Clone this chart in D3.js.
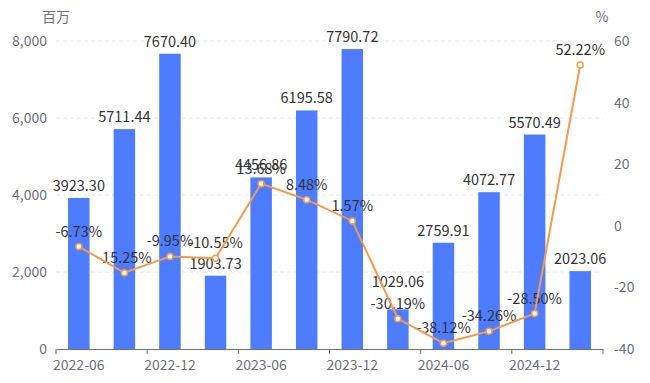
<!DOCTYPE html>
<html>
<head>
<meta charset="utf-8">
<script src="https://d3js.org/d3.v7.min.js"></script>
<style>
  body { margin: 0; background: #fff; }
  svg text { font-family: "Noto Sans CJK SC", "Noto Sans", sans-serif; }
</style>
</head>
<body>
<svg id="chart" width="650" height="383"></svg>
<script>
// quarters, revenue (百万) and YoY growth (%)
var quarters = ["2022-06","2022-09","2022-12","2023-03","2023-06","2023-09",
                "2023-12","2024-03","2024-06","2024-09","2024-12","2025-03"];
var revenue = [3923.30, 5711.44, 7670.40, 1903.73, 4456.86, 6195.58,
               7790.72, 1029.06, 2759.91, 4072.77, 5570.49, 2023.06];
var growth = [-6.73, -15.25, -9.95, -10.55, 13.68, 8.48,
              1.57, -30.19, -38.12, -34.26, -28.50, 52.22];
var leftTicks = [0, 2000, 4000, 6000, 8000];
var rightTicks = [-40, -20, 0, 20, 40, 60];

var svg = d3.select("#chart"),
    plotL = 56, plotR = 603, plotT = 41, plotB = 349; // "top" is taken by window

var x = d3.scaleBand().domain(quarters).range([plotL, plotR]);
var yL = d3.scaleLinear().domain([0, 8000]).range([plotB, plotT]);
var yR = d3.scaleLinear().domain([-40, 60]).range([plotB, plotT]);
var barW = 21.5;
var fmt = d3.format(",");
var axisCol = "#6e7079", labelCol = "#333";

// grid lines (dashed)
svg.append("g").selectAll("line").data(leftTicks.slice(1)).join("line")
  .attr("x1", plotL).attr("x2", plotR)
  .attr("y1", d => yL(d)).attr("y2", d => yL(d))
  .attr("stroke", "#e0e6f1").attr("stroke-dasharray", "4,3");

// left axis labels
svg.append("g").selectAll("text").data(leftTicks).join("text")
  .attr("x", 47).attr("y", d => yL(d)).attr("dy", "0.35em")
  .attr("text-anchor", "end").attr("font-size", 14).attr("fill", axisCol)
  .text(d => fmt(d));
svg.append("text").attr("x", 56).attr("y", 22).attr("text-anchor", "middle")
  .attr("font-size", 14).attr("fill", axisCol).text("百万");

// right axis labels
svg.append("g").selectAll("text").data(rightTicks).join("text")
  .attr("x", 614).attr("y", d => yR(d)).attr("dy", "0.35em")
  .attr("text-anchor", "start").attr("font-size", 14).attr("fill", axisCol)
  .text(d => d);
svg.append("text").attr("x", 602).attr("y", 22).attr("text-anchor", "middle")
  .attr("font-size", 14).attr("fill", axisCol).text("%");

// bars
svg.append("g").selectAll("rect").data(revenue).join("rect")
  .attr("x", (d, i) => x(quarters[i]) + x.bandwidth() / 2 - barW / 2)
  .attr("width", barW)
  .attr("y", d => yL(d)).attr("height", d => plotB - yL(d))
  .attr("fill", "#4d7cfe");

// x axis
var xAxis = d3.axisBottom(x)
  .tickValues(quarters.filter((d, i) => i % 2 == 0))
  .tickSize(0).tickPadding(11);
var gx = svg.append("g").attr("transform", "translate(0," + plotB + ")").call(xAxis);
gx.select(".domain").attr("stroke", axisCol);
gx.selectAll("text").attr("font-size", 14).attr("fill", axisCol)
  .attr("font-family", "Noto Sans CJK SC, Noto Sans, sans-serif");
// tick marks sit on band boundaries
var bounds = quarters.filter((d, i) => i % 2 == 0).map(d => x(d)).concat([plotR]);
gx.append("g").selectAll("line").data(bounds).join("line")
  .attr("x1", d => d).attr("x2", d => d).attr("y1", 0).attr("y2", 5)
  .attr("stroke", axisCol);

var cx = (d, i) => x(quarters[i]) + x.bandwidth() / 2;

// labels (drawn under the line)
svg.append("g").selectAll("text").data(revenue).join("text")
  .attr("x", cx)
  .attr("y", (d, i) => {
    var y = yL(d) - 7;
    // push bar label up when the line point sits well inside the bar
    var py = yR(growth[i]);
    if (py - yL(d) > 8 && py - yL(d) < 30) y = py - 32;
    return y;
  })
  .attr("text-anchor", "middle").attr("font-size", 14.5).attr("fill", labelCol)
  .text(d => d.toFixed(2));

svg.append("g").selectAll("text").data(growth).join("text")
  .attr("x", cx).attr("y", d => yR(d) - 10)
  .attr("text-anchor", "middle").attr("font-size", 14.5).attr("fill", labelCol)
  .text(d => d.toFixed(2) + "%");

// line
var line = d3.line().x(cx).y(d => yR(d));
svg.append("path").datum(growth).attr("d", line)
  .attr("fill", "none").attr("stroke", "#f59a4a").attr("stroke-width", 2);
svg.append("g").selectAll("circle").data(growth).join("circle")
  .attr("cx", cx).attr("cy", d => yR(d)).attr("r", 3)
  .attr("fill", "#fff").attr("stroke", "#f59a4a").attr("stroke-width", 1.5);
</script>
</body>
</html>
